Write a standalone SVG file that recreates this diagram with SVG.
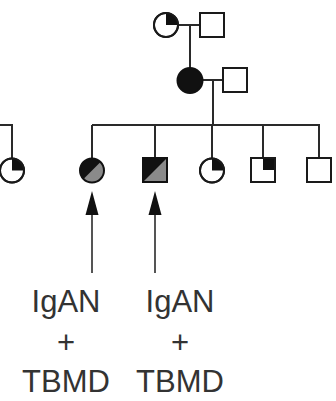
<svg xmlns="http://www.w3.org/2000/svg" width="336" height="401" viewBox="0 0 336 401">
<style>
.ln{stroke:#2a2a2a;stroke-width:2;fill:none}
.sym{stroke:#1a1a1a;stroke-width:2;fill:#fff}
.blk{fill:#111;stroke:none}
.gry{fill:#8a8a8a;stroke:none}
.arr{stroke:#555;stroke-width:2;fill:none}
.lbl{font-family:"Liberation Sans",Arial,sans-serif;font-size:31px;fill:#333;text-anchor:middle}
</style>
<defs>
<marker id="ah" markerWidth="13" markerHeight="24" refX="6.5" refY="0" orient="auto" markerUnits="userSpaceOnUse" viewBox="0 0 13 24">
<polygon points="0,24 6.5,0 13,24" fill="#111"/>
</marker>
</defs>
<g id="connectors">
<line class="ln" x1="178" y1="25" x2="200" y2="25"/>
<line class="ln" x1="190" y1="25" x2="190" y2="68"/>
<line class="ln" x1="202" y1="80" x2="223" y2="80"/>
<line class="ln" x1="213" y1="80" x2="213" y2="125"/>
<line class="ln" x1="92" y1="125" x2="320" y2="125"/>
<line class="ln" x1="92" y1="125" x2="92" y2="158"/>
<line class="ln" x1="155" y1="125" x2="155" y2="158"/>
<line class="ln" x1="212" y1="125" x2="212" y2="158"/>
<line class="ln" x1="263" y1="125" x2="263" y2="158"/>
<line class="ln" x1="319" y1="125" x2="319" y2="158"/>
<polyline class="ln" points="0,125 12,125 12,158"/>
<line class="arr" x1="92" y1="273" x2="92" y2="205"/>
<line class="arr" x1="155" y1="273" x2="155" y2="205"/>
<polygon points="85.5,215 92,191 98.5,215" fill="#111"/>
<polygon points="148.5,215 155,191 161.5,215" fill="#111"/>
</g>
<g id="gp-female">
<circle class="sym" cx="166" cy="25" r="12"/>
<path class="blk" d="M166,25 L166,13 A12,12 0 0 1 178,25 Z"/>
<circle cx="166" cy="25" r="12" fill="none" stroke="#1a1a1a" stroke-width="2"/>
</g>
<g id="gp-male"><rect class="sym" x="200" y="13" width="24" height="24"/></g>
<g id="mother"><circle cx="190" cy="80.5" r="12.5" fill="#111" stroke="#111" stroke-width="2"/></g>
<g id="father"><rect class="sym" x="223" y="68" width="24" height="24"/></g>
<g id="cousin">
<circle class="sym" cx="12" cy="170.5" r="12"/>
<path class="blk" d="M12,170.5 L12,158.5 A12,12 0 0 1 24,170.5 Z"/>
<circle cx="12" cy="170.5" r="12" fill="none" stroke="#1a1a1a" stroke-width="2"/>
</g>
<g id="child1">
<circle cx="92" cy="170.5" r="12" fill="#8a8a8a"/>
<path class="blk" d="M83.5,179 A12,12 0 0 1 100.5,162 Z"/>
<circle cx="92" cy="170.5" r="12" fill="none" stroke="#111" stroke-width="2"/>
</g>
<g id="child2">
<rect x="143" y="158" width="24" height="24" fill="#8a8a8a"/>
<polygon class="blk" points="143,158 167,158 143,182"/>
<rect x="143" y="158" width="24" height="24" fill="none" stroke="#111" stroke-width="2"/>
</g>
<g id="child3">
<circle class="sym" cx="212" cy="170.5" r="12"/>
<path class="blk" d="M212,170.5 L212,158.5 A12,12 0 0 1 224,170.5 Z"/>
<circle cx="212" cy="170.5" r="12" fill="none" stroke="#1a1a1a" stroke-width="2"/>
</g>
<g id="child4">
<rect class="sym" x="251" y="158" width="24" height="24"/>
<rect class="blk" x="263" y="158" width="12" height="12"/>
<rect x="251" y="158" width="24" height="24" fill="none" stroke="#1a1a1a" stroke-width="2"/>
</g>
<g id="child5"><rect class="sym" x="307" y="158" width="24" height="24"/></g>
<g id="label1">
<text class="lbl" x="66" y="312">IgAN</text>
<text class="lbl" x="66" y="353">+</text>
<text class="lbl" x="66" y="392">TBMD</text>
</g>
<g id="label2">
<text class="lbl" x="180" y="312">IgAN</text>
<text class="lbl" x="180" y="353">+</text>
<text class="lbl" x="180" y="392">TBMD</text>
</g>
</svg>
